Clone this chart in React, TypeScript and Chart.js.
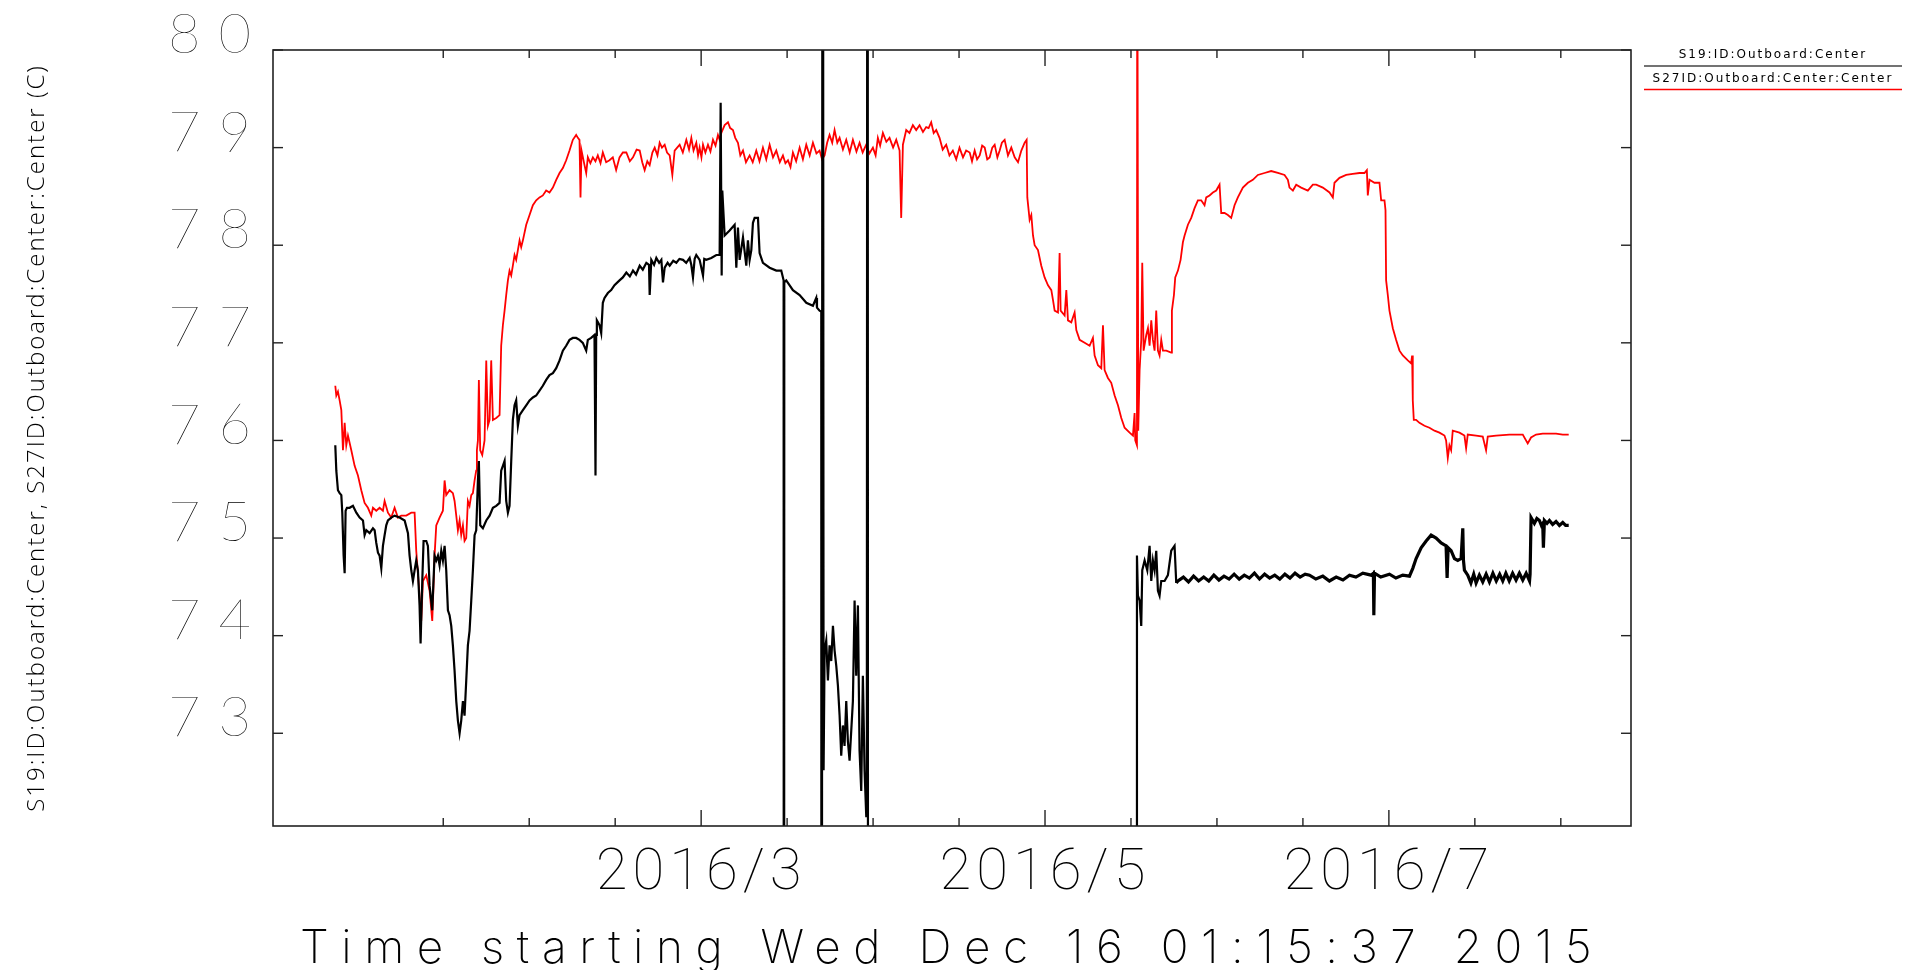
import React, { useEffect, useRef } from 'react';
import { Chart, registerables } from 'chart.js';

Chart.register(...registerables);

// ---------- data (x = days since Wed Dec 16 01:15:37 2015, y = degrees C) ----------
const seriesLabels = ['S19:ID:Outboard:Center', 'S27ID:Outboard:Center:Center'];
const seriesColors = ['#000000', '#ff0000'];

const xTitle = 'Time starting Wed Dec 16 01:15:37 2015';
const yTitle = 'S19:ID:Outboard:Center, S27ID:Outboard:Center:Center (C)';

const xTickDays = [30.2, 45.45, 60.7, 75.95, 91.2, 106.45, 121.7, 136.95, 152.2, 167.45, 182.7, 197.95, 213.2, 228.45];
const xTickLabels = ['', '', '', '2016/3', '', '', '', '2016/5', '', '', '', '2016/7', '', ''];
const xMajorDays = [75.95, 136.95, 197.95];
const yTickValues = [73, 74, 75, 76, 77, 78, 79, 80];

// S19 (black)
const blackSeries: [number, number][] = [
  [11.05,75.95],[11.23,75.69],[11.52,75.49],[11.82,75.46],[12.12,75.44],[12.29,75.26],[12.53,74.82],[12.71,74.64],[12.88,75.28],[13.12,75.31],
  [13.59,75.31],[14.18,75.33],[14.78,75.26],[15.37,75.21],[15.96,75.18],[16.25,75.03],[16.55,75.08],[17.14,75.05],[17.73,75.10],[18.03,75.08],
  [18.32,74.95],[18.62,74.85],[18.91,74.82],[19.21,74.69],[19.5,74.92],[19.8,75.03],[20.09,75.13],[20.39,75.18],[20.98,75.21],[21.57,75.23],
  [22.46,75.21],[23.35,75.18],[23.94,75.05],[24.23,74.82],[24.53,74.67],[24.82,74.56],[25.12,74.67],[25.41,74.77],[25.71,74.67],[26.0,74.31],
  [26.18,73.92],[26.48,74.56],[26.71,74.97],[27.19,74.97],[27.48,74.92],[27.78,74.51],[28.25,74.26],[28.66,74.82],[28.96,74.77],[29.26,74.82],
  [29.55,74.72],[29.85,74.87],[30.14,74.77],[30.44,74.92],[30.73,74.67],[31.03,74.26],[31.32,74.21],[31.62,74.10],[31.91,73.90],[32.21,73.64],
  [32.51,73.33],[32.8,73.13],[33.1,73.0],[33.39,73.13],[33.69,73.33],[33.98,73.18],[34.28,73.54],[34.57,73.90],[34.87,74.05],[35.17,74.36],
  [35.46,74.67],[35.76,75.03],[36.05,75.08],[36.35,75.59],[36.52,75.79],[36.76,75.13],[37.23,75.10],[37.83,75.18],[38.42,75.23],[39.01,75.31],
  [39.6,75.33],[40.19,75.36],[40.48,75.69],[40.78,75.74],[41.08,75.79],[41.37,75.38],[41.67,75.26],[41.96,75.33],[42.26,75.79],[42.55,76.21],
  [42.85,76.36],[43.14,76.41],[43.44,76.15],[43.74,76.26],[44.33,76.31],[44.92,76.36],[45.51,76.41],[46.1,76.44],[46.69,76.46],[47.28,76.51],
  [47.87,76.56],[48.46,76.62],[49.05,76.67],[49.65,76.69],[50.24,76.74],[50.83,76.82],[51.42,76.92],[52.01,76.97],[52.6,77.03],[53.19,77.05],
  [53.78,77.05],[54.37,77.03],[54.96,77.0],[55.56,76.92],[55.85,77.03],[56.44,77.05],[57.03,77.08],[57.21,75.64],[57.33,77.08],[57.45,77.23],
  [57.92,77.18],[58.22,77.10],[58.51,77.41],[58.81,77.46],[59.4,77.51],[59.99,77.54],[60.58,77.59],[61.47,77.64],[62.06,77.67],
  [62.68,77.72],[63.3,77.68],[63.86,77.74],[64.4,77.70],[65.05,77.79],[65.6,77.75],[66.23,77.82],[66.7,77.80],[66.82,77.49],[67.11,77.85],
  [67.6,77.80],[68.0,77.87],[68.5,77.82],[68.89,77.85],[69.18,77.62],[69.48,77.77],[70.0,77.82],[70.37,77.79],[71.0,77.84],[71.55,77.82],
  [72.1,77.86],[72.73,77.85],[73.3,77.82],[73.91,77.87],[74.2,77.80],[74.5,77.67],[74.8,77.86],[75.09,77.90],[75.68,77.85],[76.28,77.69],
  [76.5,77.86],[76.87,77.85],[77.75,77.87],[78.64,77.90],[79.23,77.90],[79.41,79.46],[79.59,77.69],[79.7,78.56],[80.12,78.10],[81.0,78.15],
  [81.89,78.21],[82.19,77.77],[82.48,78.18],[82.78,77.85],[83.37,78.08],[83.96,77.79],[84.25,78.05],[84.55,77.85],[84.85,77.95],[85.14,78.23],
  [85.44,78.28],[86.03,78.28],[86.32,77.92],[86.91,77.82],[88.1,77.77],[89.28,77.74],[90.16,77.74],[90.58,77.64],[90.64,60],[90.7,77.62],
  [91.05,77.64],[92.23,77.54],[93.42,77.49],[94.6,77.41],[95.78,77.38],[96.37,77.46],[96.5,77.36],[96.96,77.33],[97.26,77.32],[97.32,60],
  [97.5,90],[97.67,72.62],[97.85,73.85],[98.14,73.95],[98.44,73.54],[98.73,73.90],[99.03,73.74],[99.33,74.10],[99.62,73.85],[99.92,73.69],
  [100.21,73.49],[100.51,73.18],[100.8,72.77],[101.1,73.08],[101.39,72.87],[101.69,73.33],[101.98,72.92],[102.28,72.72],[102.58,73.03],[102.87,73.33],
  [103.17,74.36],[103.46,73.59],[103.76,74.31],[104.05,72.82],[104.35,72.41],[104.64,73.59],[104.94,72.62],[105.24,72.15],[105.35,73.79],[105.47,90],
  [105.59,60],[153.14,60],
  [153.26,74.82],[153.43,74.41],[153.73,74.36],[154.02,74.10],[154.2,74.67],[154.62,74.77],[155.09,74.67],[155.5,74.92],[155.8,74.56],[156.09,74.77],
  [156.39,74.67],[156.68,74.87],[156.98,74.46],[157.27,74.41],[157.57,74.56],[158.16,74.56],[158.75,74.62],[159.34,74.87],[159.93,74.92],[160.23,74.54],
  [160.53,74.56],[161.5,74.60],[162.4,74.55],[163.3,74.61],[164.2,74.56],[165.1,74.60],[166.0,74.56],[166.9,74.62],[167.8,74.57],[168.7,74.61],
  [169.6,74.58],[170.5,74.63],[171.4,74.58],[172.3,74.62],[173.2,74.59],[174.1,74.64],[175.0,74.58],[175.9,74.63],[176.8,74.59],[177.7,74.62],
  [178.6,74.58],[179.5,74.63],[180.4,74.59],[181.3,74.64],[182.2,74.60],[183.1,74.63],[183.87,74.62],
  [185.0,74.58],[186.23,74.61],[187.4,74.56],[188.6,74.60],[189.8,74.57],[190.96,74.62],[192.1,74.60],[193.33,74.64],[194.8,74.62],[195.2,74.64],
  [195.28,74.21],[195.4,74.64],[196.5,74.60],[198.05,74.63],[199.2,74.59],[200.42,74.62],[201.6,74.61],[202.19,74.69],[202.78,74.79],[203.67,74.90],
  [204.56,74.97],[205.44,75.03],[206.33,75.0],[207.22,74.95],[208.1,74.92],[208.28,74.59],[208.46,74.90],[208.99,74.87],[209.58,74.79],[210.17,74.77],
  [210.76,74.79],[211.06,75.10],[211.18,74.77],[211.35,74.67],[211.94,74.62],[212.5,74.54],[213.0,74.63],[213.42,74.54],[214.0,74.62],[214.6,74.55],
  [215.2,74.63],[215.79,74.55],[216.4,74.64],[217.0,74.56],[217.6,74.63],[218.15,74.56],[218.7,74.64],[219.3,74.56],[219.9,74.64],[220.51,74.57],
  [221.1,74.64],[221.7,74.57],[222.3,74.64],[222.9,74.56],[223.0,74.63],[223.17,75.21],[223.76,75.15],[224.2,75.20],[224.65,75.18],[225.0,75.13],
  [225.24,75.15],[225.36,74.90],[225.54,75.18],[226.0,75.15],[226.43,75.18],[227.0,75.14],[227.6,75.17],[228.2,75.13],[228.79,75.16],[229.3,75.13],
  [229.85,75.13],
];

// S27 (red)
const redSeries: [number, number][] = [
  [11.05,76.56],[11.23,76.46],[11.52,76.50],[11.82,76.41],[12.12,76.31],[12.41,75.90],[12.71,76.18],[13.0,75.95],[13.3,76.05],[13.89,75.90],
  [14.48,75.74],[15.07,75.64],[15.66,75.49],[16.25,75.36],[16.84,75.31],[17.43,75.23],[17.73,75.31],[18.32,75.28],[18.91,75.31],[19.5,75.28],
  [19.8,75.38],[20.39,75.26],[20.98,75.21],[21.57,75.31],[22.16,75.21],[22.75,75.23],[23.64,75.23],[24.53,75.26],[25.12,75.26],[25.41,74.87],
  [26.0,74.41],[26.3,74.15],[26.6,74.56],[27.19,74.62],[27.78,74.46],[28.25,74.15],[28.66,74.82],[28.96,75.13],[29.55,75.21],[30.14,75.28],
  [30.44,75.59],[30.73,75.44],[31.32,75.49],[31.91,75.46],[32.21,75.38],[32.51,75.23],[32.8,75.08],[33.1,75.18],[33.39,75.03],[33.69,75.13],
  [33.98,74.97],[34.28,75.0],[34.57,75.38],[34.87,75.33],[35.17,75.44],[35.46,75.46],[35.76,75.59],[36.05,75.69],[36.17,75.90],[36.35,76.0],
  [36.52,76.62],[36.76,75.90],[37.12,75.85],[37.53,76.0],[37.83,76.82],[38.12,76.15],[38.42,76.21],[38.71,76.82],[39.01,76.21],[39.6,76.23],
  [40.19,76.26],[40.48,76.97],[40.78,77.18],[41.08,77.33],[41.37,77.49],[41.67,77.64],[41.96,77.74],[42.26,77.69],[42.55,77.79],[42.85,77.90],
  [43.14,77.85],[43.44,77.95],[43.74,78.05],[44.03,77.98],[44.33,78.05],[44.92,78.21],[45.51,78.31],[46.1,78.41],[46.69,78.46],[47.28,78.49],
  [47.87,78.51],[48.46,78.56],[49.05,78.54],[49.65,78.59],[50.24,78.67],[50.83,78.74],[51.42,78.79],[52.01,78.87],[52.6,78.97],[53.19,79.08],
  [53.78,79.13],[54.08,79.10],[54.37,79.08],[54.55,78.49],[54.73,78.97],[55.26,78.82],[55.56,78.74],[55.85,78.90],[56.3,78.84],[56.74,78.90],
  [57.2,78.86],[57.62,78.92],[58.1,78.84],[58.51,78.95],[59.1,78.85],[59.69,78.87],[60.28,78.90],[60.87,78.77],[61.47,78.90],[62.06,78.95],
  [62.68,78.95],[63.3,78.86],[63.86,78.90],[64.5,78.98],[65.05,78.97],[65.5,78.85],[65.93,78.77],[66.4,78.86],[66.82,78.82],[67.3,78.95],
  [67.71,79.0],[68.2,78.92],[68.59,79.05],[69.0,79.0],[69.48,79.03],[69.9,78.95],[70.37,78.92],[70.84,78.72],[71.25,78.97],[71.7,79.0],
  [72.14,79.03],[72.7,78.95],[73.32,79.08],[73.8,78.98],[74.21,79.10],[74.6,78.97],[75.09,79.05],[75.4,78.92],[75.68,79.0],[76.0,78.90],
  [76.28,79.03],[76.7,78.95],[77.16,79.03],[77.6,78.96],[78.05,79.08],[78.5,79.02],[78.93,79.13],[79.23,79.08],[79.53,79.15],[80.12,79.23],
  [80.71,79.26],[81.1,79.20],[81.59,79.18],[82.0,79.10],[82.48,79.05],[82.9,78.92],[83.37,78.97],[83.9,78.85],[84.55,78.92],[85.1,78.85],
  [85.73,78.97],[86.3,78.86],[86.91,79.0],[87.5,78.88],[88.1,79.03],[88.7,78.90],[89.28,78.97],[89.9,78.85],[90.46,78.92],[90.9,78.84],
  [91.35,78.87],[91.8,78.80],[92.23,78.95],[92.8,78.86],[93.42,79.0],[94.0,78.88],[94.6,79.03],[95.2,78.92],[95.78,79.05],[96.4,78.94],
  [96.96,78.97],[97.4,78.88],[97.85,78.92],[98.3,79.05],[98.73,79.13],[99.2,79.05],[99.62,79.18],[100.1,79.05],[100.51,79.10],[101.1,78.98],
  [101.69,79.08],[102.3,78.95],[102.87,79.08],[103.5,78.96],[104.05,79.05],[104.6,78.95],[105.24,79.03],[105.8,78.94],[106.42,79.0],[106.9,78.92],
  [107.3,79.10],[107.7,79.02],[108.19,79.15],[108.8,79.06],[109.37,79.10],[110.0,79.0],[110.56,79.08],[111.15,78.97],[111.44,78.28],[111.74,79.03],
  [112.33,79.18],[112.9,79.15],[113.51,79.23],[114.1,79.18],[114.69,79.23],[115.3,79.16],[115.87,79.21],[116.3,79.20],[116.76,79.26],[117.2,79.15],
  [117.65,79.18],[118.24,79.10],[118.8,78.98],[119.42,79.03],[120.0,78.92],[120.6,78.97],[121.2,78.88],[121.78,79.0],[122.4,78.90],[122.96,78.97],
  [123.59,78.95],[124.0,78.86],[124.47,78.97],[124.9,78.88],[125.36,78.92],[125.8,79.02],[126.25,79.0],[126.7,78.88],[127.13,78.90],[127.6,79.0],
  [128.02,79.03],[128.5,78.90],[128.91,78.97],[129.3,79.05],[129.79,79.08],[130.38,78.92],[130.97,79.0],[131.57,78.90],[132.16,78.85],[132.75,78.97],
  [133.34,79.05],[133.69,79.08],[133.81,78.49],[134.22,78.26],[134.52,78.31],[134.82,78.10],[135.11,78.0],[135.7,77.95],[136.29,77.79],[136.88,77.67],
  [137.48,77.59],[138.07,77.54],[138.36,77.44],[138.66,77.33],[139.25,77.31],[139.54,77.92],[139.72,77.33],[140.43,77.28],[140.73,77.54],[141.02,77.23],
  [141.61,77.21],[142.2,77.31],[142.5,77.13],[143.09,77.03],[143.98,77.0],[144.86,76.97],[145.45,77.05],[145.75,76.87],[146.34,76.77],[146.93,76.74],
  [147.23,77.18],[147.52,76.72],[148.11,76.64],[148.7,76.59],[149.3,76.46],[149.89,76.36],[150.48,76.23],[151.07,76.13],[151.96,76.08],[152.55,76.05],
  [152.84,76.28],[152.96,76.0],[153.26,75.95],[153.31,82],[153.49,76.10],[153.73,76.72],[154.02,77.03],[154.2,77.82],[154.44,76.92],[154.91,77.08],
  [155.21,77.15],[155.5,76.97],[155.8,77.23],[156.09,77.03],[156.39,76.92],[156.68,77.33],[156.98,76.92],[157.27,76.87],[157.57,77.03],[157.87,76.92],
  [158.46,76.92],[159.34,76.90],[159.46,77.33],[159.82,77.49],[160.05,77.67],[160.53,77.74],[161.0,77.85],[161.41,78.03],[161.71,78.10],[162.3,78.21],
  [162.89,78.28],[163.48,78.38],[164.07,78.46],[164.66,78.46],[165.25,78.41],[165.55,78.49],[166.14,78.51],[166.73,78.54],[167.32,78.56],[167.91,78.62],
  [168.21,78.33],[168.8,78.33],[169.39,78.31],[169.98,78.28],[170.57,78.41],[171.16,78.49],[172.05,78.59],[172.94,78.64],[173.82,78.67],[174.71,78.72],
  [175.89,78.74],[177.07,78.76],[178.26,78.74],[179.44,78.72],[180.03,78.67],[180.32,78.59],[180.92,78.56],[181.51,78.62],[182.39,78.59],[183.57,78.56],
  [184.46,78.62],[185.05,78.62],[186.23,78.59],[187.42,78.54],[188.01,78.49],[188.3,78.64],[189.19,78.69],[190.37,78.72],[191.55,78.73],[192.74,78.74],
  [193.62,78.74],[194.04,78.77],[194.21,78.51],[194.51,78.67],[195.39,78.64],[196.28,78.64],[196.58,78.46],[197.17,78.46],[197.35,78.36],[197.46,77.64],
  [197.76,77.49],[198.05,77.33],[198.65,77.15],[199.24,77.03],[199.83,76.92],[200.42,76.87],[201.31,76.82],[201.9,76.79],[202.07,76.87],[202.19,76.41],
  [202.37,76.21],[202.78,76.21],[203.37,76.18],[204.26,76.15],[205.15,76.13],[206.03,76.10],[206.92,76.08],[207.81,76.05],[208.1,76.0],[208.4,75.82],
  [208.69,75.95],[208.99,75.90],[209.28,76.10],[210.47,76.08],[211.35,76.05],[211.65,75.92],[211.94,76.06],[213.42,76.05],[214.6,76.04],[215.19,75.90],
  [215.49,76.04],[216.97,76.05],[219.33,76.06],[221.7,76.06],[222.58,75.97],[223.17,76.03],[224.06,76.06],[225.24,76.07],[227.6,76.07],[228.79,76.06],
  [229.85,76.06],
];

// ---------- styling ----------
const YTICK_FONT = "Lato, 'DejaVu Sans', sans-serif";
const XTICK_FONT = "Roboto, 'DejaVu Sans', sans-serif";
const XTITLE_FONT = "Inter, 'DejaVu Sans', sans-serif";
const YTITLE_FONT = "'Open Sans', 'DejaVu Sans', sans-serif";
const LEGEND_FONT = "'DejaVu Sans', sans-serif";

const spacingPlugin = {
  id: 'letterSpacing',
  beforeDraw(chart: any) {
    const wrap = (scale: any, labelSp: string, titleSp: string) => {
      if (!scale || scale.$lsWrapped) return;
      scale.$lsWrapped = true;
      const dl = scale.drawLabels;
      const dt = scale.drawTitle;
      scale.drawLabels = function (area: any) {
        const c = this.ctx; c.save(); c.letterSpacing = labelSp; dl.call(this, area); c.restore();
      };
      scale.drawTitle = function (area: any) {
        const c = this.ctx; c.save(); c.letterSpacing = titleSp; dt.call(this, area); c.restore();
      };
    };
    wrap(chart.scales.x, '5px', '12.5px');
    wrap(chart.scales.y, '18px', '2px');
  },
};

const framePlugin = {
  id: 'frame',
  afterDraw(chart: any) {
    const { ctx, chartArea: a, scales } = chart;
    const x = scales.x, y = scales.y;
    ctx.save();
    ctx.strokeStyle = '#222';
    ctx.lineWidth = 1.6;
    ctx.strokeRect(a.left, a.top, a.right - a.left, a.bottom - a.top);
    ctx.lineWidth = 1.4;
    const seg = (x1: number, y1: number, x2: number, y2: number) => {
      ctx.beginPath(); ctx.moveTo(x1, y1); ctx.lineTo(x2, y2); ctx.stroke();
    };
    x.ticks.forEach((t: any) => {
      const px = x.getPixelForValue(t.value);
      const len = xMajorDays.includes(t.value) ? 16 : 8;
      seg(px, a.bottom, px, a.bottom - len);
      seg(px, a.top, px, a.top + len);
    });
    y.ticks.forEach((t: any) => {
      const py = y.getPixelForValue(t.value);
      seg(a.left, py, a.left + 10, py);
      seg(a.right, py, a.right - 10, py);
    });
    // legend
    ctx.font = `12px ${LEGEND_FONT}`;
    (ctx as any).letterSpacing = '2px';
    ctx.textAlign = 'center';
    ctx.textBaseline = 'middle';
    ctx.fillStyle = '#000';
    const lx1 = a.right + 13, lx2 = a.right + 271;
    chart.data.datasets.forEach((ds: any, i: number) => {
      const cy = a.top + 5 + i * 23.5;
      ctx.fillText(ds.label, (lx1 + lx2) / 2, cy);
      ctx.strokeStyle = i === 0 ? '#444' : ds.borderColor;
      ctx.lineWidth = 1.5;
      seg(lx1, cy + 11, lx2, cy + 11);
    });
    ctx.restore();
  },
};

export default function App() {
  const ref = useRef<HTMLCanvasElement | null>(null);
  useEffect(() => {
    if (!ref.current) return;
    const toPts = (s: [number, number][]) => s.map(([x, y]) => ({ x, y }));
    const chart = new Chart(ref.current, {
      type: 'line',
      data: {
        datasets: [
          {
            label: seriesLabels[0], data: toPts(blackSeries), borderColor: seriesColors[0], borderWidth: 2.2,
            pointRadius: 0, tension: 0, clip: 0,
            segment: { borderWidth: (c: any) => (c.p0.parsed.x > 160 && c.p0.parsed.y > 74 ? 3.2 : 2.2) },
          } as any,
          { label: seriesLabels[1], data: toPts(redSeries), borderColor: seriesColors[1], borderWidth: 1.8, pointRadius: 0, tension: 0, clip: 0 } as any,
        ],
      },
      options: {
        animation: false,
        responsive: false,
        events: [],
        layout: { padding: { left: 0, top: 50, right: 280, bottom: 0 } },
        plugins: { legend: { display: false }, tooltip: { enabled: false } },
        scales: {
          x: {
            type: 'linear',
            min: 0,
            max: 240.9,
            afterBuildTicks: (s: any) => { s.ticks = xTickDays.map((v) => ({ value: v })); },
            afterFit: (s: any) => { s.height = 144; },
            grid: { display: false, drawTicks: false },
            border: { display: false },
            ticks: {
              autoSkip: false, maxRotation: 0, minRotation: 0, padding: 14, color: '#000',
              font: { family: XTICK_FONT, size: 58, weight: '100', lineHeight: 1.2 },
              callback: (_v: any, i: number) => xTickLabels[i],
            },
            title: {
              display: true, text: xTitle, color: '#000',
              font: { family: XTITLE_FONT, size: 46, weight: '200', lineHeight: 1 },
              padding: { top: 0, bottom: -2 },
            },
          },
          y: {
            type: 'linear',
            min: 72.05,
            max: 80,
            afterBuildTicks: (s: any) => { s.ticks = yTickValues.map((v) => ({ value: v })); },
            afterFit: (s: any) => { s.width = 273; },
            grid: { display: false, drawTicks: false },
            border: { display: false },
            ticks: {
              padding: 4, labelOffset: -15, color: '#000',
              font: { family: YTICK_FONT, size: 56, weight: '200', lineHeight: 1.2 },
              callback: (v: any) => String(v),
            },
            title: {
              display: true, text: yTitle, color: '#000',
              font: { family: YTITLE_FONT, size: 24, weight: '300', lineHeight: 1.2 },
              padding: { top: 23, bottom: 0 },
            },
          },
        },
      } as any,
      plugins: [spacingPlugin, framePlugin],
    });
    chart.draw();
    return () => chart.destroy();
  }, []);
  return (
    <div style={{ position: 'fixed', left: 0, top: 0, width: 1911, height: 970, background: '#fff' }}>
      <canvas ref={ref} width={1911} height={970} style={{ display: 'block', width: 1911, height: 970 }} />
    </div>
  );
}
